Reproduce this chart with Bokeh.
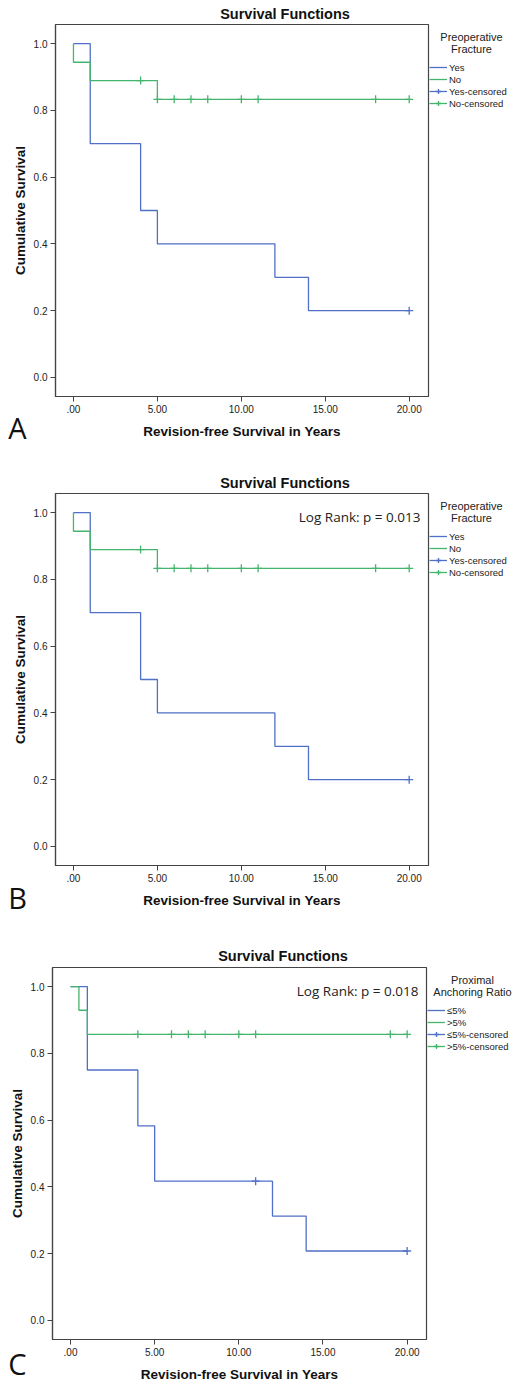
from bokeh.plotting import figure
from bokeh.models import Range1d, FixedTicker, Label, Legend, LegendItem, BoxAnnotation
from bokeh.layouts import column
from bokeh.embed import file_html
from bokeh.resources import INLINE

# ---------------- data ----------------
x_ticks = [0, 5, 10, 15, 20]
x_tick_labels = [".00", "5.00", "10.00", "15.00", "20.00"]
y_ticks = [0.0, 0.2, 0.4, 0.6, 0.8, 1.0]
y_tick_labels = ["0.0", "0.2", "0.4", "0.6", "0.8", "1.0"]

# Preoperative fracture (panels A and B)
frac_yes_t = [0, 1, 4, 5, 12, 14, 20]
frac_yes_s = [1.0, 0.7, 0.5, 0.4, 0.3, 0.2, 0.2]
frac_yes_cens_t = [20]
frac_yes_cens_s = [0.2]
frac_no_t = [0, 0, 1, 5, 20]
frac_no_s = [1.0, 0.944, 0.889, 0.833, 0.833]
frac_no_cens_t = [4, 5, 6, 7, 8, 10, 11, 18, 20]
frac_no_cens_s = [0.889, 0.833, 0.833, 0.833, 0.833, 0.833, 0.833, 0.833, 0.833]

# Proximal anchoring ratio (panel C)
par_low_t = [0, 1, 4, 5, 12, 14, 20]
par_low_s = [1.0, 0.75, 0.583, 0.417, 0.3125, 0.208, 0.208]
par_low_cens_t = [11, 20]
par_low_cens_s = [0.417, 0.208]
par_high_t = [0, 0.5, 1, 20]
par_high_s = [1.0, 0.929, 0.857, 0.857]
par_high_cens_t = [4, 6, 7, 8, 10, 11, 19, 20]
par_high_cens_s = [0.857, 0.857, 0.857, 0.857, 0.857, 0.857, 0.857, 0.857]

frac_labels = ["Yes", "No", "Yes-censored", "No-censored"]
par_labels = ["\u22645%", ">5%", "\u22645%-censored", ">5%-censored"]

# ---------------- style ----------------
BLUE = "#5070c8"
GREEN = "#44b56d"
AXC = "#444444"
FONT = "Liberation Sans"
X0, X1 = -1.07, 21.15      # visible plot box, data units
Y0, Y1 = -0.057, 1.057
W = 513


def make_panel(fig_top, fig_h, box, letter, letter_c, legend_title, lt_cx,
               title_c, labels, s1, s2, logrank=None):
    l, r, t, b = box
    fig_b = fig_top + fig_h
    xs = (r - l) / (X1 - X0)
    ys = (b - t) / (Y1 - Y0)
    xr = Range1d(X0 - l / xs, X1 + (W - r) / xs)
    yr = Range1d(Y0 - (fig_b - b) / ys, Y1 + (t - fig_top) / ys)

    def sy(py):
        return fig_b - py

    p = figure(width=W, height=fig_h, output_backend="svg", toolbar_location=None,
               x_range=xr, y_range=yr, title=None,
               min_border_top=0, min_border_bottom=0,
               min_border_left=0, min_border_right=0)
    p.grid.visible = False
    p.outline_line_color = None
    p.background_fill_color = "white"
    p.border_fill_color = "white"

    for ax in (p.xaxis[0], p.yaxis[0]):
        ax.axis_line_color = AXC
        ax.axis_line_width = 1.2
        ax.major_tick_line_color = AXC
        ax.major_tick_in = 0
        ax.major_tick_out = 5
        ax.minor_tick_line_color = None
        ax.major_label_text_font = FONT
        ax.major_label_text_font_size = "10px"
        ax.major_label_text_color = "#222222"
        ax.axis_label_text_font = FONT
        ax.axis_label_text_font_size = "13.5px"
        ax.axis_label_text_font_style = "bold"
        ax.axis_label_text_color = "#111111"

    p.xaxis.fixed_location = Y0
    p.xaxis.bounds = (X0, X1)
    p.xaxis.ticker = FixedTicker(ticks=x_ticks)
    p.xaxis.major_label_overrides = dict(zip(x_ticks, x_tick_labels))
    p.xaxis.axis_label = "Revision-free Survival in Years"
    p.xaxis.major_label_standoff = 3
    p.xaxis.axis_label_standoff = 8
    p.yaxis.fixed_location = X0
    p.yaxis.bounds = (Y0, Y1)
    p.yaxis.ticker = FixedTicker(ticks=y_ticks)
    p.yaxis.major_label_overrides = dict(zip(y_ticks, y_tick_labels))
    p.yaxis.axis_label = "Cumulative Survival"
    p.yaxis.major_label_standoff = 3
    p.yaxis.axis_label_standoff = 3

    # plot box
    p.add_layout(BoxAnnotation(left=X0, right=X1, bottom=Y0, top=Y1, fill_alpha=0,
                               line_color=AXC, line_alpha=1.0, line_width=1.2,
                               level="underlay"))

    (t1, y1, ct1, cy1) = s1
    (t2, y2, ct2, cy2) = s2
    r1 = p.step(t1, y1, mode="after", line_color=BLUE, line_width=1.3)
    r2 = p.step(t2, y2, mode="after", line_color=GREEN, line_width=1.3)
    c1 = p.scatter(ct1, cy1, marker="cross", size=8, line_color=BLUE, line_width=1.3)
    c2 = p.scatter(ct2, cy2, marker="cross", size=8, line_color=GREEN, line_width=1.3)

    legend = Legend(items=[LegendItem(label=labels[0], renderers=[r1]),
                           LegendItem(label=labels[1], renderers=[r2]),
                           LegendItem(label=labels[2], renderers=[r1, c1]),
                           LegendItem(label=labels[3], renderers=[r2, c2])],
                    location=(r + 1, sy(t + 37 + 48)),
                    orientation="vertical", glyph_width=18, glyph_height=12,
                    label_height=12, spacing=0, padding=0, margin=0,
                    label_standoff=2, border_line_color=None,
                    background_fill_alpha=0, label_text_font=FONT,
                    label_text_font_size="9.5px", label_text_color="#222222",
                    label_text_baseline="middle")
    p.add_layout(legend)

    # legend title
    for i, line in enumerate(legend_title):
        p.add_layout(Label(x=lt_cx, y=sy(t + 12 + 12 * i), x_units="screen",
                           y_units="screen", text=line, text_align="center",
                           text_baseline="middle", text_font=FONT,
                           text_font_size="11px", text_color="#222222"))

    # chart title
    p.add_layout(Label(x=title_c[0], y=sy(title_c[1]), x_units="screen",
                       y_units="screen", text="Survival Functions", text_align="center",
                       text_baseline="middle", text_font=FONT, text_font_size="14.5px",
                       text_font_style="bold", text_color="#111111"))

    # panel letter
    p.add_layout(Label(x=17, y=sy(letter_c), x_units="screen", y_units="screen",
                       text=letter, text_align="center", text_baseline="middle",
                       text_font="Open Sans", text_font_size="29px",
                       text_color="#111111"))
    if logrank:
        p.add_layout(Label(x=r - 8, y=sy(t + 23.5), x_units="screen", y_units="screen",
                           text=logrank, text_align="right", text_baseline="middle",
                           text_font="Open Sans", text_font_size="13.5px",
                           text_color="#222222"))
    return p


frac1 = (frac_yes_t, frac_yes_s, frac_yes_cens_t, frac_yes_cens_s)
frac2 = (frac_no_t, frac_no_s, frac_no_cens_t, frac_no_cens_s)
par1 = (par_low_t, par_low_s, par_low_cens_t, par_low_cens_s)
par2 = (par_high_t, par_high_s, par_high_cens_t, par_high_cens_s)

pA = make_panel(0, 455, (55, 428, 24, 396), "A", 427, ["Preoperative", "Fracture"], 471,
                (284.5, 13), frac_labels, frac1, frac2)
pB = make_panel(455, 470, (55, 428, 493, 865), "B", 897, ["Preoperative", "Fracture"], 471,
                (284.5, 482), frac_labels, frac1, frac2, logrank="Log Rank: p = 0.013")
pC = make_panel(925, 459, (52, 426, 967, 1339), "C", 1363, ["Proximal", "Anchoring Ratio"],
                472, (282.5, 955), par_labels, par1, par2, logrank="Log Rank: p = 0.018")

layout = column(pA, pB, pC, spacing=0)
open("out.html", "w").write(file_html(layout, INLINE))
